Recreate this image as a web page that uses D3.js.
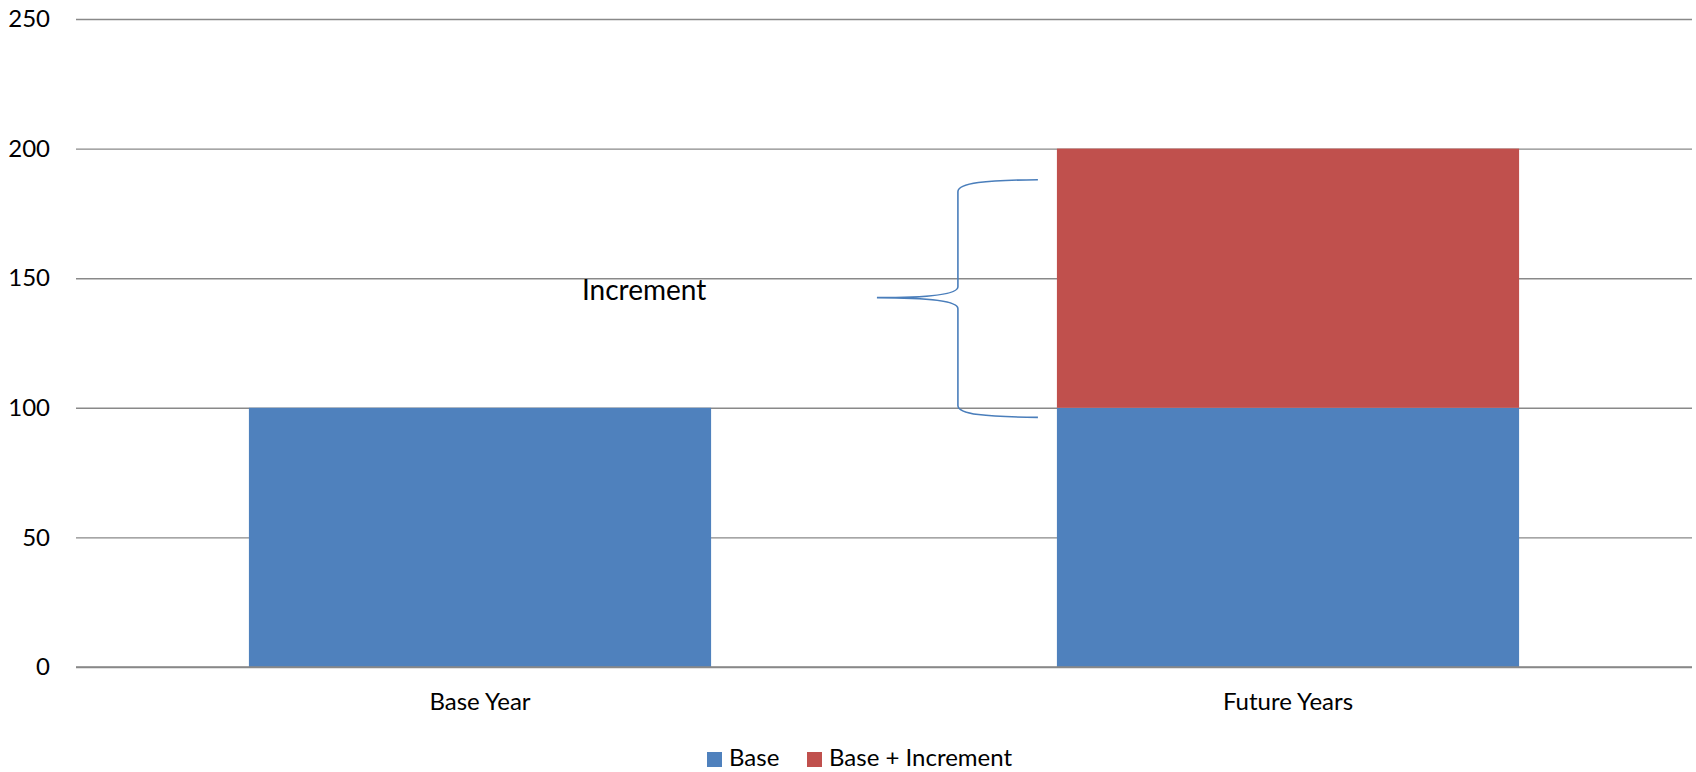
<!DOCTYPE html>
<html>
<head>
<meta charset="utf-8">
<script src="https://cdnjs.cloudflare.com/ajax/libs/d3/7.8.5/d3.min.js"></script>
<style>
  body { margin: 0; background: #fff; }
  text { font-family: Lato, "Open Sans", sans-serif; fill: #000; }
</style>
</head>
<body>
<svg id="chart" width="1696" height="772"></svg>
<script>
// chart data
var categories = ['Base Year', 'Future Years'];
var baseValues = [100, 100];
var incrementValues = [0, 100];
var seriesNames = ['Base', 'Base + Increment'];
var seriesColors = ['#4f81bd', '#c0504d'];
var yTicks = [0, 50, 100, 150, 200, 250];

// brace annotation (values on the y axis)
var braceTop = 188;
var braceMid = 142.5;
var braceBottom = 96.3;
var braceLabel = 'Increment';

var width = 1696, height = 772;
var margin = {top: 19, right: 4, bottom: 105, left: 76};
var innerW = width - margin.left - margin.right;
var innerH = height - margin.top - margin.bottom;

var svg = d3.select('#chart');
var g = svg.append('g').attr('transform', 'translate(' + margin.left + ',' + margin.top + ')');

var x = d3.scaleBand().domain(categories).range([0, innerW]).paddingInner(0.428).paddingOuter(0.214);
var y = d3.scaleLinear().domain([0, 250]).range([innerH, 0]);

// gridlines + y labels
var yAxis = d3.axisLeft(y).tickValues(yTicks).tickSize(-innerW).tickPadding(26);
var yG = g.append('g').call(yAxis);
yG.select('.domain').remove();
yG.selectAll('.tick line').attr('stroke', '#898989').attr('stroke-width', 1.4);
yG.selectAll('.tick text').attr('font-size', 24).attr('font-family', 'Lato, sans-serif').attr('fill', '#000');

// stacked bars
var stacked = categories.map(function(c, i) {
  return {cat: c, base: baseValues[i], inc: incrementValues[i]};
});
var stack = d3.stack().keys(['base', 'inc'])(stacked);

g.selectAll('.series')
  .data(stack)
  .enter().append('g')
  .attr('fill', function(d, i) { return seriesColors[i]; })
  .selectAll('rect')
  .data(function(d) { return d; })
  .enter().append('rect')
  .attr('x', function(d) { return x(d.data.cat); })
  .attr('y', function(d) { return y(d[1]); })
  .attr('width', x.bandwidth())
  .attr('height', function(d) { return y(d[0]) - y(d[1]); });

// zero line on top of bars
g.append('line')
  .attr('x1', 0).attr('x2', innerW)
  .attr('y1', y(0)).attr('y2', y(0))
  .attr('stroke', '#898989').attr('stroke-width', 1.4);

// category labels
g.selectAll('.cat')
  .data(categories)
  .enter().append('text')
  .attr('x', function(d) { return x(d) + x.bandwidth() / 2; })
  .attr('y', innerH + 43)
  .attr('text-anchor', 'middle')
  .attr('font-size', 24)
  .text(function(d) { return d; });

// brace
var bx = x('Future Years');
var xEnd = bx - 19, xStem = bx - 99, xTip = bx - 180;
var yT = y(braceTop), yM = y(braceMid), yB = y(braceBottom);
var p = d3.path();
p.moveTo(xEnd, yT);
p.bezierCurveTo(xStem + 28, yT + 0.5, xStem, yT + 3, xStem, yT + 12);
p.lineTo(xStem, yM - 11);
p.bezierCurveTo(xStem, yM - 2, xStem - 40, yM, xTip, yM);
p.bezierCurveTo(xStem - 40, yM, xStem, yM + 2, xStem, yM + 11);
p.lineTo(xStem, yB - 12);
p.bezierCurveTo(xStem, yB - 3, xStem + 28, yB - 0.5, xEnd, yB);
g.append('path')
  .attr('d', p.toString())
  .attr('fill', 'none')
  .attr('stroke', '#4a7ebb')
  .attr('stroke-width', 1.6);

g.append('text')
  .attr('x', xTip - 295)
  .attr('y', y(braceMid) + 2)
  .attr('font-size', 28)
  .text(braceLabel);

// legend
var legend = svg.append('g').attr('transform', 'translate(' + 707 + ',' + 752 + ')');
var offsets = [0, 100];
seriesNames.forEach(function(name, i) {
  var item = legend.append('g').attr('transform', 'translate(' + offsets[i] + ',0)');
  item.append('rect').attr('width', 15).attr('height', 15).attr('fill', seriesColors[i]);
  item.append('text').attr('x', 22).attr('y', 14).attr('font-size', 24).text(name);
});
</script>
</body>
</html>
